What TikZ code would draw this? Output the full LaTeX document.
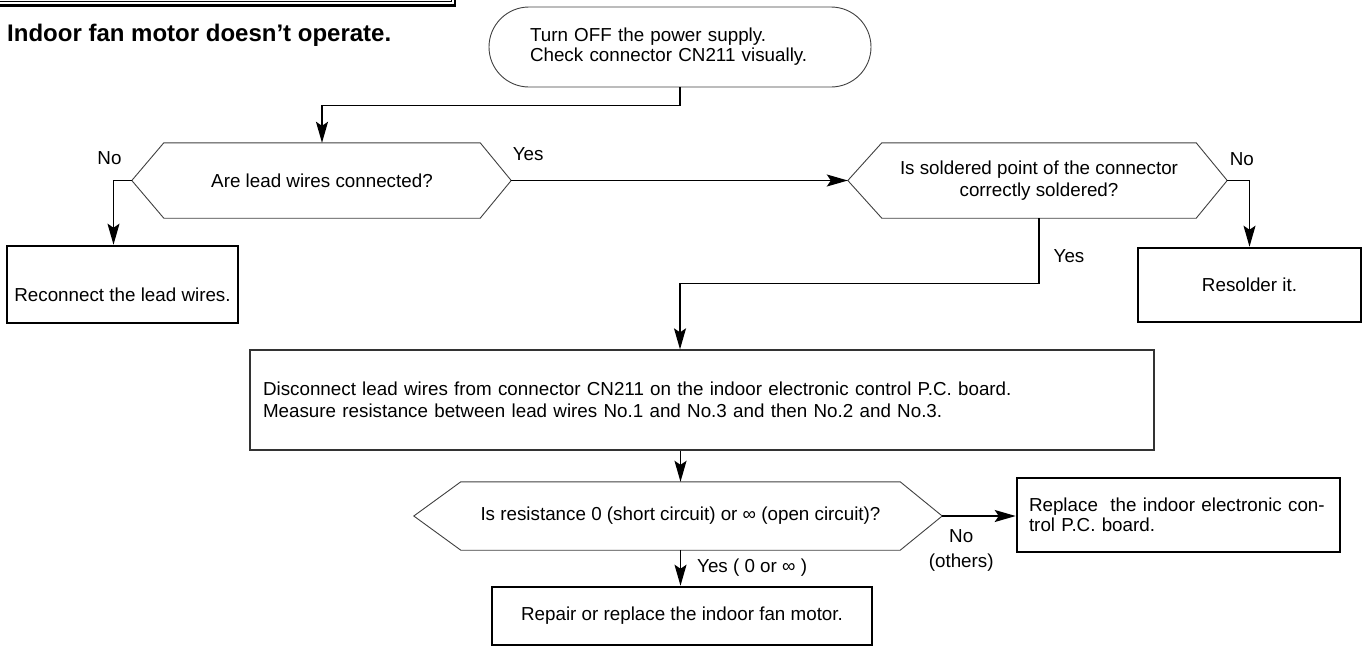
\documentclass[tikz,border=0pt]{standalone}
\usepackage{fontspec}
\setmainfont{Liberation Sans}
\usetikzlibrary{arrows.meta}
\newcommand{\fcfont}{\fontsize{18.8pt}{20pt}\selectfont}
\tikzset{
  fctitle/.style = {font=\fontsize{24pt}{28pt}\selectfont\bfseries, inner sep=0pt},
  fcterm/.style  = {draw=black!75, line width=0.9pt, rounded corners=40pt,
                    minimum width=382pt, minimum height=80pt, text width=300pt,
                    inner xsep=41pt, align=left, font=\fcfont},
  fcquest/.style = {inner sep=0pt, minimum height=75pt, align=center, font=\fcfont},
  fchex/.style   = {draw=black!75, line width=0.9pt},
  fcproc/.style  = {draw=black!80, line width=1.3pt, inner xsep=13pt,
                    align=left, font=\fcfont},
  fcact/.style   = {draw, line width=2.6pt, inner sep=0pt, align=center, font=\fcfont},
  fcarrow/.style = {line width=1.4pt, -{Stealth[length=21pt,width=12pt,inset=4pt]}},
  fclbl/.style   = {font=\fcfont, inner sep=0pt}
}

\begin{document}
\begin{tikzpicture}[x=1pt, y=-1pt]
  \useasboundingbox (0,0) rectangle (1367,648);
  \clip (0,0) rectangle (1367,648);

  % frame of the page heading
  \draw[line width=2.6pt] (-20,5.5) -- (455,5.5) -- (455,-20);
  \draw[line width=1pt]   (-20,1.5) -- (451,1.5) -- (451,-20);

  \node[fctitle, anchor=base west] (title) at (7,41) {Indoor fan motor doesn’t operate.};

  \node[fcterm] (start) at (680,47)
        {Turn OFF the power supply.\\Check connector CN211 visually.};

  \node[fcquest, minimum width=316pt] (qlead) at (322,180.5)
        {Are lead wires connected?};
  \node[fcquest, minimum width=314pt] (qsolder) at (1039,180.5)
        {Is soldered point of the connector\\[2pt] correctly soldered?};

  \node[fcact, minimum width=231pt, minimum height=77pt, text height=34pt] (reconnect)
        at (122.5,284.5) {Reconnect the lead wires.};
  \node[fcact, minimum width=223pt, minimum height=74pt] (resolder)
        at (1249.5,285) {Resolder it.};

  \node[fcproc, minimum width=904pt, minimum height=100pt, text width=878pt] (measure)
        at (702,400)
        {Disconnect lead wires from connector CN211 on the indoor electronic control P.C. board.\\[2pt]
         Measure resistance between lead wires No.1 and No.3 and then No.2 and No.3.};

  \node[fcquest, minimum width=439pt, minimum height=68pt] (qres) at (680.5,516)
        {Is resistance 0 (short circuit) or ∞ (open circuit)?};

  \node[fcact, minimum width=323pt, minimum height=74pt, text width=299pt,
        inner xsep=12pt, align=left] (replace) at (1178.5,515)
        {Replace\ \ the indoor electronic con-\\trol P.C. board.};
  \node[fcact, minimum width=380pt, minimum height=58pt] (repair) at (682,616)
        {Repair or replace the indoor fan motor.};

  % hexagon outlines of the questions
  \foreach \qn/\ql/\qr in {qlead/32/31, qsolder/34/31, qres/47/42} {
    \draw[fchex] (\qn.north west) -- (\qn.north east) -- ([xshift=\qr pt]\qn.east)
      -- (\qn.south east) -- (\qn.south west) -- ([xshift=-\ql pt]\qn.west) -- cycle;
    \coordinate (\qn-l) at ([xshift=-\ql pt]\qn.west);
    \coordinate (\qn-r) at ([xshift=\qr pt]\qn.east);
  }

  \draw[fcarrow] (start.south) -- ++(0,18) -| (qlead.north);
  \draw[fcarrow] (qlead-l) -| node[fclbl, pos=0.5, above=15pt, xshift=-4pt] {No}
        ([xshift=-9pt]reconnect.north);
  \draw[fcarrow] (qlead-r) -- node[fclbl, pos=0, anchor=base west, xshift=1pt, yshift=20.5pt] {Yes}
        (qsolder-l);
  \draw[fcarrow] (qsolder-r) -| node[fclbl, pos=0, anchor=base west, xshift=2pt, yshift=15pt] {No}
        (resolder.north);
  \draw[fcarrow] (qsolder.south) -- node[fclbl, right=14pt, yshift=-5pt] {Yes} ++(0,65)
        -| ([xshift=-22pt]measure.north);
  \draw[fcarrow] (measure.south -| qres.north) -- (qres.north);
  \draw[fcarrow] (qres.south) -- node[fclbl, right=16pt] {Yes ( 0 or ∞ )}
        (qres.south |- repair.north);
  \draw[fcarrow] (qres-r) -- node[fclbl, pos=0, anchor=north, align=center, xshift=19pt,
        yshift=-13pt] {No\\[5pt](others)} (qres-r -| replace.west);
\end{tikzpicture}
\end{document}
